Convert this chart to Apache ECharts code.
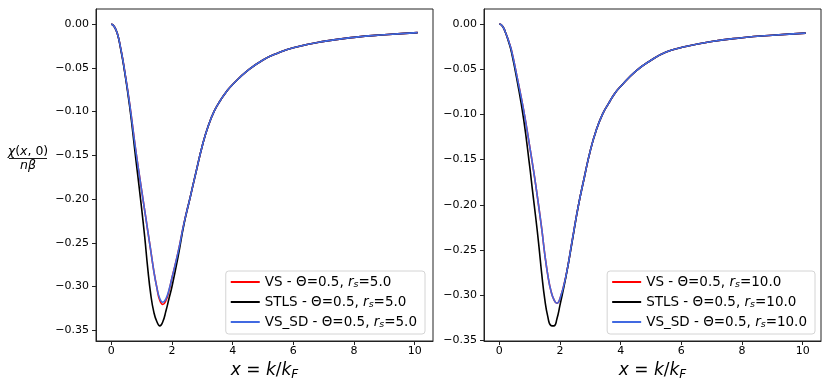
<!DOCTYPE html>
<html>
<head>
<meta charset="utf-8">
<script src="https://cdn.jsdelivr.net/npm/echarts@6/dist/echarts.min.js"></script>
<style>
  html, body { margin: 0; padding: 0; background: #fff; }
  #chart { width: 830px; height: 390px; }
</style>
</head>
<body>
<div id="chart"></div>
<script>
// x = k/k_F sample points (shared by both panels)
const xs = [0, 0.1, 0.2, 0.3, 0.4, 0.6, 0.8, 1.0, 1.1, 1.2, 1.3, 1.4, 1.5, 1.6, 1.7, 1.8, 1.9, 2.0,
  2.2, 2.4, 2.6, 2.8, 3.0, 3.2, 3.4, 3.6, 3.8, 4.0, 4.5, 5.0, 5.5, 6.0, 7.0, 8.0, 9.0, 10.1];

// left panel, r_s = 5.0
const vs5 = [0, -0.003, -0.011, -0.026, -0.045, -0.090, -0.143, -0.190, -0.213, -0.236, -0.259, -0.282,
  -0.301, -0.316, -0.3205, -0.316, -0.305, -0.290, -0.261, -0.227, -0.198, -0.168, -0.139, -0.116,
  -0.099, -0.087, -0.077, -0.069, -0.053, -0.041, -0.033, -0.027, -0.0198, -0.0152, -0.0122, -0.0097];
const stls5 = [0, -0.003, -0.011, -0.027, -0.046, -0.093, -0.152, -0.211, -0.243, -0.279, -0.309, -0.329,
  -0.340, -0.345, -0.340, -0.328, -0.314, -0.300, -0.266, -0.228, -0.198, -0.168, -0.139, -0.116,
  -0.099, -0.087, -0.077, -0.069, -0.053, -0.041, -0.033, -0.027, -0.0198, -0.0152, -0.0122, -0.0097];
const vsSd5 = [0, -0.003, -0.011, -0.026, -0.045, -0.090, -0.143, -0.190, -0.213, -0.236, -0.259, -0.282,
  -0.301, -0.314, -0.318, -0.314, -0.304, -0.290, -0.261, -0.227, -0.198, -0.168, -0.139, -0.116,
  -0.099, -0.087, -0.077, -0.069, -0.053, -0.041, -0.033, -0.027, -0.0198, -0.0152, -0.0122, -0.0097];

// right panel, r_s = 10.0
const vs10 = [0, -0.002, -0.009, -0.018, -0.029, -0.061, -0.095, -0.135, -0.156, -0.178, -0.202, -0.227,
  -0.255, -0.278, -0.295, -0.305, -0.309, -0.304, -0.278, -0.240, -0.202, -0.170, -0.140, -0.117,
  -0.100, -0.088, -0.077, -0.069, -0.052, -0.040, -0.031, -0.026, -0.0192, -0.0151, -0.0123, -0.0100];
const stls10 = [0, -0.002, -0.009, -0.019, -0.031, -0.065, -0.105, -0.157, -0.186, -0.214, -0.244, -0.277,
  -0.305, -0.324, -0.3335, -0.334, -0.326, -0.311, -0.279, -0.241, -0.202, -0.170, -0.140, -0.117,
  -0.100, -0.088, -0.077, -0.069, -0.052, -0.040, -0.031, -0.026, -0.0192, -0.0151, -0.0123, -0.0100];
const vsSd10 = [0, -0.002, -0.009, -0.018, -0.029, -0.061, -0.095, -0.135, -0.156, -0.178, -0.202, -0.227,
  -0.255, -0.278, -0.295, -0.305, -0.309, -0.304, -0.278, -0.240, -0.202, -0.170, -0.140, -0.117,
  -0.100, -0.088, -0.077, -0.069, -0.052, -0.040, -0.031, -0.026, -0.0192, -0.0151, -0.0123, -0.0100];

const xTicks = [0, 2, 4, 6, 8, 10];
const yTicks = [0, -0.05, -0.10, -0.15, -0.20, -0.25, -0.30, -0.35];

const names5 = ["VS - Θ=0.5, r_s=5.0", "STLS - Θ=0.5, r_s=5.0", "VS_SD - Θ=0.5, r_s=5.0"];
const names10 = ["VS - Θ=0.5, r_s=10.0", "STLS - Θ=0.5, r_s=10.0", "VS_SD - Θ=0.5, r_s=10.0"];
const colors = ["#ff0000", "#000000", "#4169e1"];

const FONT = "DejaVu Sans";
const pts = arr => xs.map((x, i) => [x, arr[i]]);

// matplotlib style 5% margins
const padRange = (lo, hi) => [lo - 0.05 * (hi - lo), hi + 0.05 * (hi - lo)];
const xRange = padRange(xs[0], xs[xs.length - 1]);
const yRange5 = padRange(Math.min(...vs5, ...stls5, ...vsSd5), 0);
const yRange10 = padRange(Math.min(...vs10, ...stls10, ...vsSd10), 0);

const fmtY = v => (v < -1e-9 ? "\u2212" : "") + Math.abs(v).toFixed(2);

const makeX = idx => ({
  type: "value",
  gridIndex: idx,
  min: xRange[0],
  max: xRange[1],
  axisLine: { show: true, onZero: false, lineStyle: { color: "#222", width: 1 } },
  axisTick: { show: true, customValues: xTicks, length: 4, lineStyle: { color: "#222" } },
  axisLabel: { customValues: xTicks, margin: 5, fontSize: 11, fontFamily: FONT, color: "#000" },
  splitLine: { show: false },
  name: "{i|x} = {i|k}/{i|k}{s|F}",
  nameLocation: "middle",
  nameGap: 12,
  nameTextStyle: {
    fontSize: 17, fontFamily: FONT, color: "#000",
    rich: {
      i: { fontStyle: "italic", fontSize: 17, fontFamily: FONT, color: "#000" },
      s: { fontStyle: "italic", fontSize: 12, fontFamily: FONT, color: "#000", padding: [8, 0, 0, 0] }
    }
  }
});

const makeY = (idx, range) => ({
  type: "value",
  gridIndex: idx,
  min: range[0],
  max: range[1],
  axisLine: { show: true, onZero: false, lineStyle: { color: "#222", width: 1 } },
  axisTick: { show: true, customValues: yTicks, length: 4, lineStyle: { color: "#222" } },
  axisLabel: { customValues: yTicks, margin: 7, fontSize: 11, fontFamily: FONT, color: "#000", formatter: fmtY },
  splitLine: { show: false }
});

const makeSeries = (names, arrays, idx) => names.map((n, i) => ({
  name: n,
  type: "line",
  xAxisIndex: idx,
  yAxisIndex: idx,
  data: pts(arrays[i]),
  smooth: 0.5,
  showSymbol: false,
  symbol: "none",
  lineStyle: { color: colors[i], width: 1.6 },
  itemStyle: { color: colors[i] }
}));

const makeLegend = (names, right) => ({
  data: names,
  orient: "vertical",
  right: right,
  bottom: 56,
  icon: "rect",
  itemWidth: 29,
  itemHeight: 2,
  itemGap: 5,
  padding: [4, 8, 4, 5],
  backgroundColor: "rgba(255,255,255,0.8)",
  borderColor: "#d4d4d4",
  borderWidth: 1,
  borderRadius: 3,
  selectedMode: false,
  formatter: name => name.replace("r_s", "{i|r}{s|s}"),
  textStyle: {
    fontSize: 13.5, fontFamily: FONT, color: "#000",
    rich: {
      i: { fontStyle: "italic", fontSize: 13.5, fontFamily: FONT, color: "#000" },
      s: { fontStyle: "italic", fontSize: 9.5, fontFamily: FONT, color: "#000", padding: [6, 0, 0, 0] }
    }
  }
});

const chart = echarts.init(document.getElementById("chart"), null, { renderer: "canvas" });
chart.setOption({
  animation: false,
  backgroundColor: "#fff",
  grid: [
    { left: 96, top: 9, width: 337, height: 332, show: true, borderColor: "#222", borderWidth: 1, backgroundColor: "transparent" },
    { left: 484, top: 9, width: 337, height: 332, show: true, borderColor: "#222", borderWidth: 1, backgroundColor: "transparent" }
  ],
  xAxis: [makeX(0), makeX(1)],
  yAxis: [makeY(0, yRange5), makeY(1, yRange10)],
  legend: [makeLegend(names5, 405), makeLegend(names10, 15)],
  series: [
    ...makeSeries(names5, [vs5, stls5, vsSd5], 0),
    ...makeSeries(names10, [vs10, stls10, vsSd10], 1)
  ],
  graphic: [
    {
      type: "text", x: 28, y: 152,
      style: {
        text: "{i|χ}({i|x}, 0)", align: "center", verticalAlign: "middle",
        fontSize: 12.5, fontFamily: FONT, fill: "#000",
        rich: { i: { fontStyle: "italic", fontSize: 12.5, fontFamily: FONT, fill: "#000" } }
      }
    },
    {
      type: "line",
      shape: { x1: 9, y1: 158.5, x2: 47, y2: 158.5 },
      style: { stroke: "#000", lineWidth: 0.9 }
    },
    {
      type: "text", x: 28, y: 166,
      style: {
        text: "{i|nβ}", align: "center", verticalAlign: "middle",
        fontSize: 12.5, fontFamily: FONT, fill: "#000",
        rich: { i: { fontStyle: "italic", fontSize: 12.5, fontFamily: FONT, fill: "#000" } }
      }
    }
  ]
});
</script>
</body>
</html>
